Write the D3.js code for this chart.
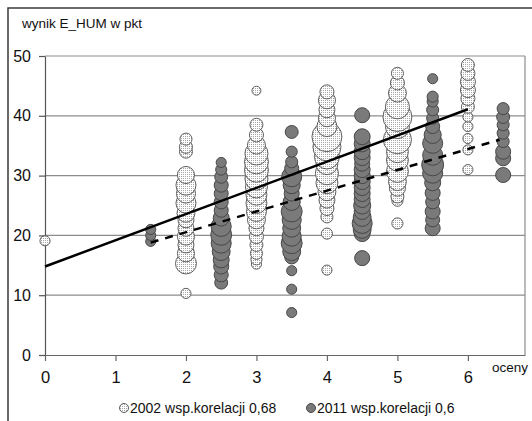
<!DOCTYPE html>
<html>
<head>
<meta charset="utf-8">
<script src="https://cdn.jsdelivr.net/npm/d3@7"></script>
<style>
body { margin: 0; background: #fff; }
svg { display: block; font-family: "Liberation Sans", Arial, sans-serif; }
</style>
</head>
<body>
<div id="chart"></div>
<script>
var grades = [0, 1, 2, 3, 4, 5, 6],
    scoreTicks = [0, 10, 20, 30, 40, 50],
    seriesNames = ["2002 wsp.korelacji 0,68", "2011 wsp.korelacji 0,6"];

// [grade, score, size]
var points2002 = [
    [0, 19.1, 14],
    [2, 36.1, 20], [2, 34.8, 23], [2, 34, 23], [2, 30.1, 40], [2, 28.4, 55], [2, 27, 50], [2, 25.4, 55],
    [2, 23.7, 44], [2, 22.6, 35], [2, 21.2, 35], [2, 19.8, 40], [2, 18.4, 35], [2, 17, 40], [2, 15.3, 60], [2, 10.3, 14],
    [3, 44.2, 11], [3, 38.5, 23], [3, 36.8, 27], [3, 35.1, 44], [3, 33.7, 73], [3, 32.3, 79], [3, 30.9, 79],
    [3, 29.5, 73], [3, 28.1, 66], [3, 26.8, 60], [3, 25.4, 60], [3, 24, 55], [3, 22.6, 44], [3, 21.2, 31],
    [3, 19.8, 27], [3, 18.4, 23], [3, 17, 20], [3, 16, 17], [3, 15.2, 14],
    [4, 44, 27], [4, 42.6, 40], [4, 41, 35], [4, 39.6, 40], [4, 38.2, 55], [4, 36.5, 123], [4, 34.8, 108],
    [4, 33.2, 86], [4, 32, 66], [4, 30.4, 73], [4, 28.8, 66], [4, 27.3, 44], [4, 25.9, 35], [4, 24.5, 27],
    [4, 23.1, 20], [4, 20.3, 17], [4, 14.2, 14],
    [5, 47.1, 20], [5, 45.5, 27], [5, 43.8, 44], [5, 41.5, 79], [5, 39.8, 115], [5, 38.2, 79], [5, 36, 108],
    [5, 34, 66], [5, 32.6, 66], [5, 30.7, 66], [5, 29, 44], [5, 27.9, 35], [5, 26.5, 23], [5, 25.8, 17], [5, 22, 17],
    [6, 48.5, 23], [6, 47.1, 27], [6, 45.7, 31], [6, 44.3, 31], [6, 42.9, 27], [6, 41.5, 23], [6, 39.8, 14],
    [6, 38.2, 14], [6, 36.2, 14], [6, 34.3, 14], [6, 31, 14]
];

var points2011 = [
    [1.5, 21, 14], [1.5, 20, 14], [1.5, 19, 14],
    [2.5, 32.2, 14], [2.5, 31, 17], [2.5, 29.8, 23], [2.5, 28.4, 27], [2.5, 27, 27], [2.5, 25.6, 27],
    [2.5, 24.2, 27], [2.5, 22.9, 35], [2.5, 21.5, 55], [2.5, 20.1, 60], [2.5, 18.7, 55], [2.5, 17.3, 44],
    [2.5, 15.9, 35], [2.5, 14.8, 31], [2.5, 13.4, 27], [2.5, 12.1, 23],
    [3.5, 37.3, 23], [3.5, 34, 17], [3.5, 32.3, 20], [3.5, 31.2, 27], [3.5, 29.8, 55], [3.5, 28.4, 40],
    [3.5, 27, 31], [3.5, 25.6, 40], [3.5, 24, 60], [3.5, 22.6, 50], [3.5, 21.2, 44], [3.5, 19.8, 50],
    [3.5, 18.7, 60], [3.5, 17.3, 44], [3.5, 16.4, 27], [3.5, 14.1, 14], [3.5, 11, 14], [3.5, 7.1, 14],
    [4.5, 40.1, 31], [4.5, 36.5, 35], [4.5, 35.3, 35], [4.5, 34, 35], [4.5, 33, 35], [4.5, 32, 31],
    [4.5, 31, 35], [4.5, 30, 35], [4.5, 29, 35], [4.5, 28, 35], [4.5, 27, 35], [4.5, 26, 35], [4.5, 25, 40],
    [4.5, 24, 35], [4.5, 23, 44], [4.5, 22, 55], [4.5, 21, 44], [4.5, 20.3, 35], [4.5, 16.2, 31],
    [5.5, 46.2, 14], [5.5, 43.2, 17], [5.5, 42.4, 17], [5.5, 41, 20], [5.5, 39.6, 20], [5.5, 38.2, 27],
    [5.5, 36.8, 40], [5.5, 35.4, 55], [5.5, 33.4, 55], [5.5, 31.8, 66], [5.5, 30.4, 55], [5.5, 28.8, 35],
    [5.5, 27.1, 31], [5.5, 25.6, 27], [5.5, 24, 31], [5.5, 22.6, 27], [5.5, 21.2, 31],
    [6.5, 41.2, 20], [6.5, 39.8, 23], [6.5, 38.5, 20], [6.5, 37.1, 20], [6.5, 35.7, 20], [6.5, 34, 31],
    [6.5, 32.9, 31], [6.5, 30.1, 31]
];

// trend line end points [grade, score]
var trend2002 = [[0, 14.8], [6, 41.1]],
    trend2011 = [[1.5, 18.8], [6.45, 36]];

var margin = {
        top: 56,
        right: 7,
        bottom: 66,
        left: 45
    },
    width = 532 - margin.left - margin.right,
    height = 421 - margin.top - margin.bottom;

var svg = d3.select("#chart").append("svg")
    .attr("width", 532)
    .attr("height", 421);

var defs = svg.append("defs");
var pat = defs.append("pattern")
    .attr("id", "dots")
    .attr("width", 2)
    .attr("height", 2)
    .attr("patternUnits", "userSpaceOnUse");
pat.append("rect").attr("width", 2).attr("height", 2).attr("fill", "#fff");
pat.append("rect").attr("x", 0).attr("y", 0).attr("width", 1).attr("height", 1).attr("fill", "#a6a6a6");

// outer frame (cut off on the right and bottom)
svg.append("path")
    .attr("d", "M8,421V8H540")
    .attr("fill", "none")
    .attr("stroke", "#3a3a3a")
    .attr("stroke-width", 1.5);

svg.append("text")
    .attr("x", 22)
    .attr("y", 28)
    .attr("font-size", 13.5)
    .attr("fill", "#111")
    .text("wynik E_HUM w pkt");

var g = svg.append("g")
    .attr("transform", "translate(" + margin.left + "," + margin.top + ")");

var x = d3.scaleLinear().domain([0, 6.81]).range([0, width]),
    y = d3.scaleLinear().domain([0, 50]).range([height, 0]),
    r = d3.scaleSqrt().domain([0, 100]).range([0, 13.5]);

// gridlines
g.selectAll(".grid")
    .data(scoreTicks.slice(1))
    .enter().append("line")
    .attr("x1", 0)
    .attr("x2", width)
    .attr("y1", function(d) { return y(d); })
    .attr("y2", function(d) { return y(d); })
    .attr("stroke", "#8c8c8c")
    .attr("stroke-width", 1.2);

g.append("line")
    .attr("x1", width).attr("x2", width)
    .attr("y1", 0).attr("y2", height)
    .attr("stroke", "#8c8c8c")
    .attr("stroke-width", 1.2);

// axes
var xAxis = g.append("g")
    .attr("transform", "translate(0," + height + ")")
    .call(d3.axisBottom(x).tickValues(grades).tickFormat(d3.format("d"))
        .tickSize(6).tickSizeOuter(0).tickPadding(10));
xAxis.select(".domain").attr("stroke", "#666").attr("stroke-width", 1.2);
xAxis.selectAll(".tick line").attr("stroke", "#666").attr("stroke-width", 1.2);
xAxis.selectAll("text").attr("font-size", 16.5).attr("fill", "#111").attr("font-family", null);

var yAxis = g.append("g")
    .call(d3.axisLeft(y).tickValues(scoreTicks).tickSize(6).tickSizeOuter(0).tickPadding(8));
yAxis.select(".domain").attr("stroke", "#555").attr("stroke-width", 1.2);
yAxis.selectAll(".tick line").attr("stroke", "#555").attr("stroke-width", 1.2);
yAxis.selectAll("text").attr("font-size", 16).attr("fill", "#111").attr("font-family", null);

svg.append("text")
    .attr("x", 492)
    .attr("y", 372)
    .attr("font-size", 13.5)
    .attr("fill", "#111")
    .text("oceny");

// bubbles, lower scores first so the upper ones sit on top
function drawBubbles(points, fill, stroke) {
    var sorted = points.slice().sort(function(a, b) { return a[1] - b[1]; });
    g.append("g").selectAll("circle")
        .data(sorted)
        .enter().append("circle")
        .attr("cx", function(d) { return x(d[0]); })
        .attr("cy", function(d) { return y(d[1]); })
        .attr("r", function(d) { return r(d[2]); })
        .attr("fill", fill)
        .attr("stroke", stroke)
        .attr("stroke-width", 1);
}
drawBubbles(points2002, "url(#dots)", "#5e5e5e");
drawBubbles(points2011, "#7a7a7a", "#474747");

var line = d3.line()
    .x(function(d) { return x(d[0]); })
    .y(function(d) { return y(d[1]); });

g.append("path")
    .datum(trend2002)
    .attr("d", line)
    .attr("stroke", "#000")
    .attr("stroke-width", 2.5)
    .attr("fill", "none");

g.append("path")
    .datum(trend2011)
    .attr("d", line)
    .attr("stroke", "#000")
    .attr("stroke-width", 2.5)
    .attr("stroke-dasharray", "8,7")
    .attr("fill", "none");

// legend
var legend = svg.append("g");
var legendX = [124, 311];
seriesNames.forEach(function(name, i) {
    legend.append("circle")
        .attr("cx", legendX[i])
        .attr("cy", 408)
        .attr("r", 4.5)
        .attr("fill", i === 0 ? "url(#dots)" : "#7a7a7a")
        .attr("stroke", i === 0 ? "#5e5e5e" : "#474747");
    legend.append("text")
        .attr("x", legendX[i] + 6)
        .attr("y", 413)
        .attr("font-size", 14)
        .attr("fill", "#111")
        .text(name);
});
</script>
</body>
</html>
